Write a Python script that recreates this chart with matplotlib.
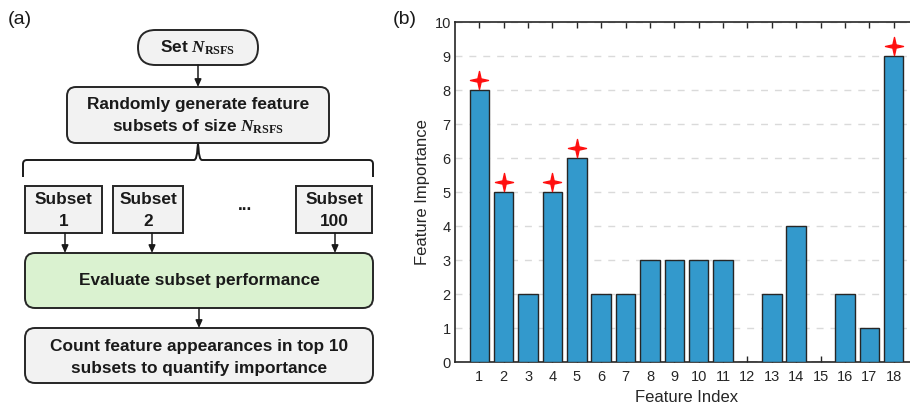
import numpy as np
import matplotlib

matplotlib.use("Agg")
import matplotlib.pyplot as plt
from matplotlib.patches import FancyBboxPatch, PathPatch
from matplotlib.path import Path

plt.rcParams['font.family'] = ['Liberation Sans', 'DejaVu Sans']
plt.rcParams['mathtext.fontset'] = 'custom'
plt.rcParams['mathtext.it'] = 'Liberation Serif:italic:bold'
plt.rcParams['mathtext.rm'] = 'Liberation Serif:bold'
plt.rcParams['mathtext.bf'] = 'Liberation Serif:bold'

# feature importance counts (appearances in top 10 subsets)
feature_index = list(range(1, 19))
importance = [8, 5, 2, 5, 6, 2, 2, 3, 3, 3, 3, 0, 2, 4, 0, 2, 1, 9]
starred = [1, 2, 4, 5, 18]

NSUB = r'$N_{\mathrm{RSFS}}$'
EDGE = '#262626'
GRAY_FILL = '#F2F2F2'
GREEN_FILL = '#DAF2D0'
BAR_COLOR = '#3399CC'

fig = plt.figure(figsize=(9.10, 4.07), dpi=100)

# ---------------- (a) flowchart, drawn in pixel coordinates ----------------
ax0 = fig.add_axes([0, 0, 1, 1])
ax0.set_xlim(0, 910)
ax0.set_ylim(407, 0)
ax0.axis('off')


def box(x0, y0, x1, y1, fill, r=9):
    p = FancyBboxPatch((x0, y0), x1 - x0, y1 - y0,
                       boxstyle="round,pad=0,rounding_size=%g" % r,
                       fc=fill, ec=EDGE, lw=1.4)
    ax0.add_patch(p)


def arrow(x, y0, y1):
    ax0.annotate('', xy=(x, y1), xytext=(x, y0),
                 arrowprops=dict(arrowstyle='-|>,head_length=0.45,head_width=0.2',
                                 color='#1a1a1a', lw=1.1, shrinkA=0, shrinkB=0))


tkw = dict(ha='center', va='center', fontsize=12.4, fontweight='bold', color='#1a1a1a')

ax0.text(8, 19, '(a)', fontsize=14, va='center', ha='left', color='#1a1a1a')
ax0.text(393, 19, '(b)', fontsize=14, va='center', ha='left', color='#1a1a1a')

box(138, 30, 258, 65, GRAY_FILL, r=17.5)
ax0.text(198, 47.5, 'Set ' + NSUB, **tkw)
arrow(198, 65, 87)

box(67, 87, 329, 143, GRAY_FILL, r=9)
ax0.text(198, 105, 'Randomly generate feature', **tkw)
ax0.text(198, 127, 'subsets of size ' + NSUB, **tkw)

# curly brace
bx0, bx1, bxm, by, btop, bbot = 23, 373, 198, 160, 144, 177
verts = [(bx0, bbot), (bx0, by + 4), (bx0, by), (bx0 + 4, by),
         (bxm - 4, by), (bxm - 1, by), (bxm - 0.5, btop + 4), (bxm, btop),
         (bxm + 0.5, btop + 4), (bxm + 1, by), (bxm + 4, by),
         (bx1 - 4, by), (bx1, by), (bx1, by + 4), (bx1, bbot)]
codes = [Path.MOVETO, Path.LINETO, Path.CURVE3, Path.CURVE3,
         Path.LINETO, Path.CURVE3, Path.CURVE3, Path.LINETO,
         Path.LINETO, Path.CURVE3, Path.CURVE3,
         Path.LINETO, Path.CURVE3, Path.CURVE3, Path.LINETO]
ax0.add_patch(PathPatch(Path(verts, codes), fc='none', ec='#1a1a1a', lw=1.4))

subsets = [('1', 25, 102, 65), ('2', 113, 183, 152), ('100', 296, 372, 335)]
for lab, x0, x1, xa in subsets:
    box(x0, 186, x1, 233, GRAY_FILL, r=0)
    ax0.text((x0 + x1) / 2, 200, 'Subset', **tkw)
    ax0.text((x0 + x1) / 2, 221, lab, **tkw)
    arrow(xa, 233, 253)
ax0.text(245, 205, '...', **tkw)

box(25, 253, 373, 308, GREEN_FILL, r=10)
ax0.text(199, 280, 'Evaluate subset performance', **tkw)
arrow(199, 308, 328)

box(25, 328, 373, 383, GRAY_FILL, r=10)
ax0.text(199, 347, 'Count feature appearances in top 10', **tkw)
ax0.text(199, 368, 'subsets to quantify importance', **tkw)

# ---------------- (b) feature importance bars ----------------
ax = fig.add_axes([455 / 910, 45 / 407, 463 / 910, 340 / 407])
ax.bar(feature_index, importance, width=0.8, color=BAR_COLOR,
       edgecolor=EDGE, linewidth=1.0, zorder=3)

star = Path([(0, 1), (0.18, 0.18), (1, 0), (0.18, -0.18), (0, -1),
             (-0.18, -0.18), (-1, 0), (-0.18, 0.18), (0, 1)],
            [Path.MOVETO] + [Path.LINETO] * 7 + [Path.CLOSEPOLY])
sx = np.array(starred)
sy = np.array([importance[i - 1] for i in starred]) + 0.3
ax.plot(sx, sy, linestyle='none', marker=star, markersize=13,
        color='#FF1010', zorder=5, clip_on=False)

ax.set_xlim(0, 19)
ax.set_ylim(0, 10)
ax.set_xticks(feature_index)
ax.set_yticks(range(0, 11))
ax.yaxis.grid(True, linestyle=(0, (5, 5)), color='#DADADA', lw=1.0, zorder=0)
ax.set_axisbelow(True)
ax.tick_params(axis='x', direction='in', top=True, length=4, width=1.0,
               color=EDGE, labelsize=10.5, labelcolor='#262626', pad=6)
ax.tick_params(axis='y', length=0, labelsize=10.5, labelcolor='#262626', pad=3)
for s in ax.spines.values():
    s.set_color(EDGE)
    s.set_linewidth(1.2)
ax.set_xlabel('Feature Index', fontsize=12, color='#262626', labelpad=4)
ax.set_ylabel('Feature Importance', fontsize=12, color='#262626', labelpad=3)

fig.savefig('out.png', dpi=100)
